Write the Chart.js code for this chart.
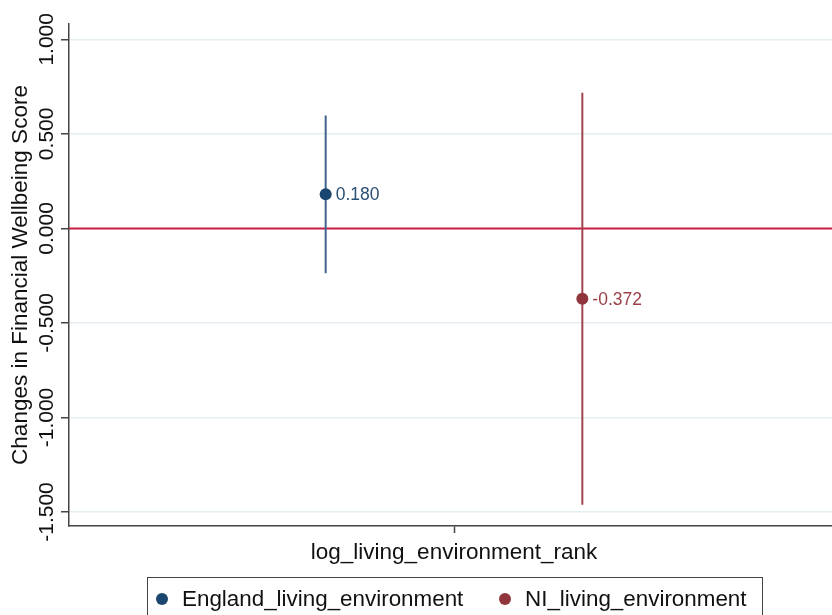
<!DOCTYPE html>
<html>
<head>
<meta charset="utf-8">
<script src="https://cdn.jsdelivr.net/npm/chart.js@4/dist/chart.umd.min.js"></script>
<style>
    html, body { margin: 0; padding: 0; background: #fff; overflow: hidden; }
    #wrap { position: relative; width: 845px; height: 615px; }
</style>
</head>
<body>
<div id="wrap"><canvas id="coefPlot"></canvas></div>
<script>
// Coefficients and 95% CIs for each region
const SERIES = ['England_living_environment', 'NI_living_environment']
const ESTIMATES = [0.180, -0.372]
const CI_LOW = [-0.237, -1.462]
const CI_HIGH = [0.597, 0.718]
const X_POS = [-0.5, 0.5]
const Y_TICKS = [1, 0.5, 0, -0.5, -1, -1.5]
const X_LABEL = 'log_living_environment_rank'
const Y_TITLE = 'Changes in Financial Wellbeing Score'
const REF_LINE = 0

const MARKER_COLORS = ['#1a476f', '#90353b']
const LINE_COLORS = ['#3f6489', '#a0454d']
const LABEL_COLORS = ['#2a5075', '#9a3f46']
const FONT = 'Arial, "Liberation Sans", sans-serif'

// one vertical CI line and one marker per series
let datasets = []
for (let i = 0; i < SERIES.length; i++) {
    datasets.push({
        label: SERIES[i] + '_ci',
        data: [{x: X_POS[i], y: CI_LOW[i]}, {x: X_POS[i], y: CI_HIGH[i]}],
        showLine: true,
        borderColor: LINE_COLORS[i],
        borderWidth: 2,
        pointRadius: 0,
        order: 2
    })
    datasets.push({
        label: SERIES[i],
        data: [{x: X_POS[i], y: ESTIMATES[i]}],
        backgroundColor: MARKER_COLORS[i],
        borderColor: MARKER_COLORS[i],
        pointRadius: 6,
        pointBorderWidth: 0,
        order: 1
    })
}

// red reference line at zero, under the data
const refLinePlugin = {
    id: 'refLine',
    beforeDatasetsDraw(chart) {
        const {ctx, chartArea, scales} = chart
        const y = scales.y.getPixelForValue(REF_LINE)
        ctx.save()
        ctx.strokeStyle = '#cc1f46'
        ctx.lineWidth = 2
        ctx.beginPath()
        ctx.moveTo(chartArea.left, y)
        ctx.lineTo(chartArea.right, y)
        ctx.stroke()
        ctx.restore()
    }
}

// rotated y labels, axis title, value labels and the boxed legend
const extrasPlugin = {
    id: 'extras',
    afterDraw(chart) {
        const {ctx, chartArea, scales} = chart
        ctx.save()
        ctx.fillStyle = '#111'

        // y tick labels read bottom to top
        ctx.font = '21px ' + FONT
        ctx.textAlign = 'center'
        ctx.textBaseline = 'alphabetic'
        Y_TICKS.forEach((v) => {
            const y = scales.y.getPixelForValue(v)
            ctx.save()
            ctx.translate(53, y)
            ctx.rotate(-Math.PI / 2)
            ctx.fillText(v.toFixed(3), 0, 0)
            ctx.restore()
        })

        // y axis title
        ctx.font = '22.5px ' + FONT
        ctx.save()
        ctx.translate(27, (chartArea.top + chartArea.bottom) / 2)
        ctx.rotate(-Math.PI / 2)
        ctx.fillText(Y_TITLE, 0, 0)
        ctx.restore()

        // value labels next to each marker
        ctx.font = '17.5px ' + FONT
        ctx.textAlign = 'left'
        ctx.textBaseline = 'middle'
        for (let i = 0; i < SERIES.length; i++) {
            ctx.fillStyle = LABEL_COLORS[i]
            const x = scales.x.getPixelForValue(X_POS[i])
            const y = scales.y.getPixelForValue(ESTIMATES[i])
            ctx.fillText(ESTIMATES[i].toFixed(3), x + 10, y + 1)
        }

        // legend box
        const boxLeft = 147, boxRight = 762, boxTop = 577, rowY = 599
        ctx.strokeStyle = '#444'
        ctx.lineWidth = 1
        ctx.strokeRect(boxLeft + 0.5, boxTop + 0.5, boxRight - boxLeft, 60)
        const itemX = [162, 505]
        ctx.font = '22.4px ' + FONT
        for (let i = 0; i < SERIES.length; i++) {
            ctx.fillStyle = MARKER_COLORS[i]
            ctx.beginPath()
            ctx.arc(itemX[i], rowY, 6, 0, Math.PI * 2)
            ctx.fill()
            ctx.fillStyle = '#111'
            ctx.fillText(SERIES[i], itemX[i] + 20, rowY + 1)
        }
        ctx.restore()
    }
}

window.onload = (event) => {
    const chartCanvas = document.getElementById('coefPlot').getContext('2d')
    const chart = new Chart(chartCanvas, {
        type: 'scatter',
        data: { datasets: datasets },
        plugins: [refLinePlugin, extrasPlugin],
        options: {
            responsive: true,
            maintainAspectRatio: false,
            animation: false,
            layout: { padding: { top: 24, right: 4, left: 0, bottom: 0 } },
            plugins: {
                legend: { display: false },
                tooltip: { enabled: false }
            },
            scales: {
                x: {
                    type: 'linear',
                    min: -1.5,
                    max: 1.5,
                    afterBuildTicks: (scale) => { scale.ticks = [{value: 0}] },
                    afterFit: (scale) => { scale.height = 89 },
                    ticks: {
                        callback: () => X_LABEL,
                        font: { size: 22.5, family: FONT },
                        color: '#111',
                        padding: 6,
                        maxRotation: 0
                    },
                    grid: { drawOnChartArea: false, tickLength: 7, tickColor: '#444', tickWidth: 1.5 },
                    border: { color: '#444', width: 1.5 }
                },
                y: {
                    min: -1.574,
                    max: 1.081,
                    afterBuildTicks: (scale) => { scale.ticks = Y_TICKS.map((v) => ({value: v})) },
                    afterFit: (scale) => { scale.width = 69 },
                    ticks: { display: false },
                    grid: { color: '#e4eef1', lineWidth: 1.5, tickLength: 8, tickColor: '#444', tickWidth: 1.5 },
                    border: { color: '#444', width: 1.5 }
                }
            }
        }
    })
}
</script>
</body>
</html>
